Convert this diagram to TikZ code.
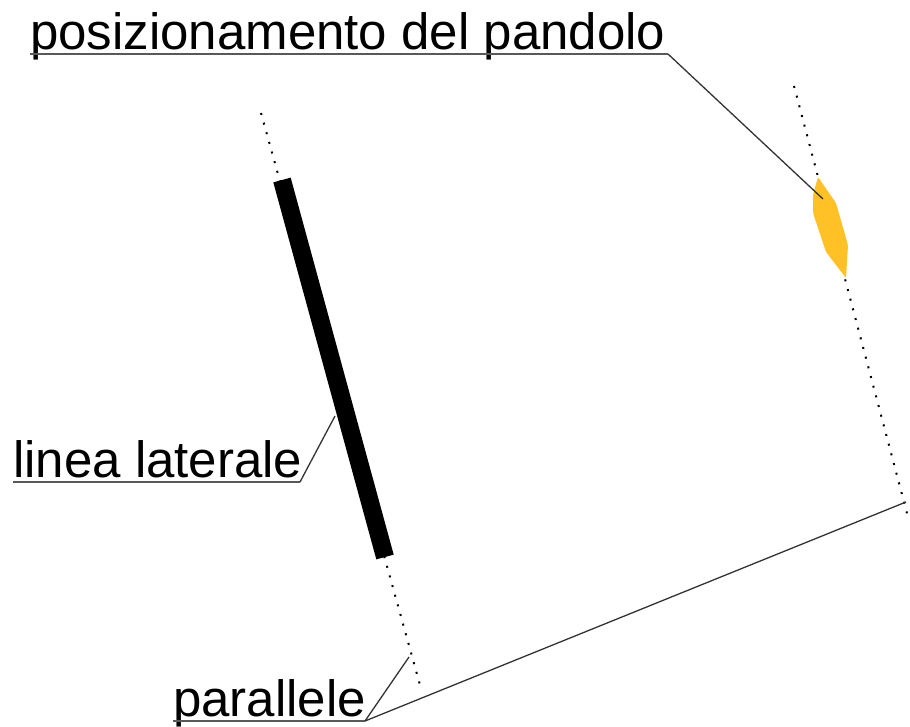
\documentclass[tikz,border=0pt]{standalone}
\usepackage{fontspec}
\setmainfont{Liberation Sans}
\definecolor{pandologold}{RGB}{255,193,37}
\tikzset{
  lbl/.style={font=\fontsize{51}{55}\selectfont, inner sep=0pt, anchor=base west},
  uline/.style={draw=black!65, line width=1.6pt},
  leader/.style={draw=black!80, line width=1.3pt},
  parline/.style={line width=2pt, dash pattern=on 2pt off 8pt}
}
\begin{document}
\begin{tikzpicture}[x=1pt,y=-1pt]
\useasboundingbox (0,0) rectangle (910,726);
\draw[parline] (261,113) -- (420,685);
\draw[parline] (794,86) -- (909,521);
\draw[line width=18pt] (282,180) -- (385,557);
\fill[pandologold, rounded corners=2pt] (818,177) -- (836,203) -- (848,245) -- (846,278)
  -- (826,252) -- (813,213) -- (813,195) -- cycle;
\node[lbl] (pos) at (30,49) {posizionamento del pandolo};
\node[lbl] (lat) at (13,477) {linea laterale};
\node[lbl] (par) at (173,716) {parallele};
\coordinate (posend) at (668,54);
\coordinate (latend) at (300,482);
\coordinate (parend) at (365,721);
\coordinate (pandolo) at (823,199);
\coordinate (barpt) at (335,416);
\coordinate (leftpar) at (409,657);
\coordinate (rightpar) at (906,502);
\draw[uline] (pos.west |- posend) -- (posend);
\draw[leader] (posend) -- (pandolo);
\draw[uline] (lat.west |- latend) -- (latend);
\draw[leader] (latend) -- (barpt);
\draw[uline] (par.west |- parend) -- (parend);
\draw[leader] (parend) -- (leftpar);
\draw[leader] (parend) -- (rightpar);
\end{tikzpicture}
\end{document}
